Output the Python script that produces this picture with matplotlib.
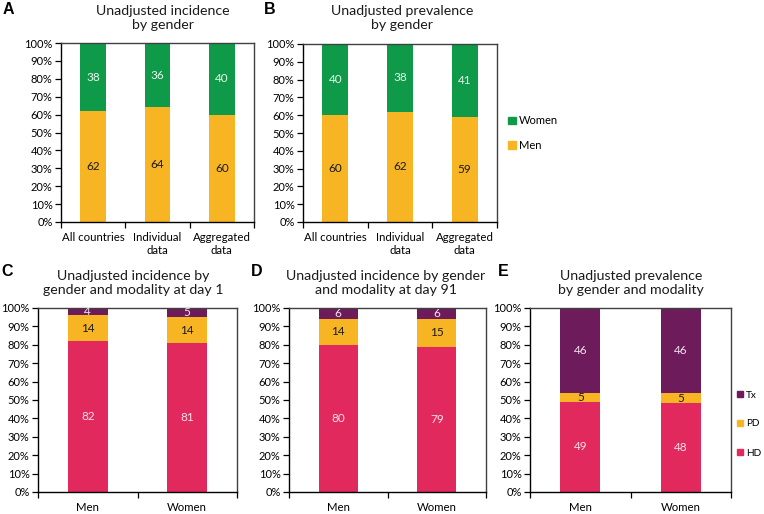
import matplotlib
matplotlib.use("Agg")
import matplotlib.pyplot as plt
import numpy as np
from matplotlib.ticker import FixedLocator, PercentFormatter
from matplotlib.patches import Patch

plt.rcParams['font.family'] = ['Lato', 'DejaVu Sans']

# ---- data ----
ab_categories = ["All countries", "Individual\ndata", "Aggregated\ndata"]
a_men = [62, 64, 60]
a_women = [38, 36, 40]
b_men = [60, 62, 59]
b_women = [40, 38, 41]

cde_categories = ["Men", "Women"]
c_hd = [82, 81]
c_pd = [14, 14]
c_tx = [4, 5]
d_hd = [80, 79]
d_pd = [14, 15]
d_tx = [6, 6]
e_hd = [49, 48]
e_pd = [5, 5]
e_tx = [46, 46]

titles = {
    "A": "Unadjusted incidence\nby gender",
    "B": "Unadjusted prevalence\nby gender",
    "C": "Unadjusted incidence by\ngender and modality at day 1",
    "D": "Unadjusted incidence by gender\nand modality at day 91",
    "E": "Unadjusted prevalence\nby gender and modality",
}

GREEN = "#0f9a4a"
YELLOW = "#f7b524"
PINK = "#e2295e"
PURPLE = "#6e1b5b"

W, H = 764, 514
fig = plt.figure(figsize=(W / 100, H / 100), dpi=100)


def ax_at(x0, x1, y0, y1):
    return fig.add_axes([x0 / W, 1 - y1 / H, (x1 - x0) / W, (y1 - y0) / H])


def style(ax, ncat, labels):
    ax.set_xlim(-0.5, ncat - 0.5)
    ax.set_ylim(0, 100)
    ax.yaxis.set_major_locator(FixedLocator(np.arange(0, 101, 10)))
    ax.yaxis.set_major_formatter(PercentFormatter(decimals=0))
    ax.set_xticks(range(ncat))
    ax.set_xticklabels(labels, fontsize=8.2, linespacing=1.2)
    ax.xaxis.set_minor_locator(FixedLocator(np.arange(-0.5, ncat, 1.0)))
    ax.tick_params(axis='x', which='major', length=0, pad=7)
    ax.tick_params(axis='x', which='minor', length=4, width=0.9, direction='out', color='black')
    ax.tick_params(axis='y', which='major', length=4, width=0.9, direction='out', labelsize=8, pad=2)
    for s in ['left', 'bottom']:
        ax.spines[s].set_color('black')
        ax.spines[s].set_linewidth(1.0)
    for s in ['top', 'right']:
        ax.spines[s].set_color('#404040')
        ax.spines[s].set_linewidth(1.0)


def stacked(ax, series, colors, txtcolors):
    tot = np.sum(np.array(series, dtype=float), axis=0)
    x = np.arange(len(tot))
    bottom = np.zeros(len(tot))
    for vals, c, tc in zip(series, colors, txtcolors):
        v = np.array(vals, dtype=float)
        h = v / tot * 100
        ax.bar(x, h, 0.4, bottom=bottom, color=c, edgecolor='none', zorder=2)
        for xi, hi, bi, lab in zip(x, h, bottom, vals):
            ax.text(xi, bi + hi / 2, f"{lab}", ha='center', va='center',
                    fontsize=8.5, color=tc, zorder=3)
        bottom = bottom + h


# A
axA = ax_at(61, 254, 43, 222)
stacked(axA, [a_men, a_women], [YELLOW, GREEN], ['#1a1a1a', '#e8f5ea'])
style(axA, 3, ab_categories)

# B
axB = ax_at(303, 497, 44, 222)
stacked(axB, [b_men, b_women], [YELLOW, GREEN], ['#1a1a1a', '#e8f5ea'])
style(axB, 3, ab_categories)
fig.legend(handles=[Patch(color=GREEN, label='Women'), Patch(color=YELLOW, label='Men')],
           loc='center left', bbox_to_anchor=(508 / W, 1 - 133 / H), frameon=False,
           fontsize=8, handlelength=0.7, handleheight=0.7, handletextpad=0.3,
           labelspacing=1.2, borderpad=0, borderaxespad=0)

# C
axC = ax_at(38, 237, 308, 492)
stacked(axC, [c_hd, c_pd, c_tx], [PINK, YELLOW, PURPLE], ['#fbe0e8', '#1a1a1a', '#f3e3ee'])
style(axC, 2, cde_categories)

# D
axD = ax_at(289, 486, 308, 492)
stacked(axD, [d_hd, d_pd, d_tx], [PINK, YELLOW, PURPLE], ['#fbe0e8', '#1a1a1a', '#f3e3ee'])
style(axD, 2, cde_categories)

# E
axE = ax_at(530, 731, 308, 492)
stacked(axE, [e_hd, e_pd, e_tx], [PINK, YELLOW, PURPLE], ['#fbe0e8', '#1a1a1a', '#f3e3ee'])
style(axE, 2, cde_categories)
fig.legend(handles=[Patch(color=PURPLE, label='Tx'), Patch(color=YELLOW, label='PD'),
                    Patch(color=PINK, label='HD')],
           loc='center left', bbox_to_anchor=(737 / W, 1 - 424 / H), frameon=False,
           fontsize=7.2, handlelength=0.6, handleheight=0.6, handletextpad=0.3,
           labelspacing=2.0, borderpad=0, borderaxespad=0)

# titles
title_pos = {"A": (163, 18), "B": (402, 18), "C": (133, 283), "D": (386, 283), "E": (631, 283)}
for k, (x, y) in title_pos.items():
    fig.text(x / W, 1 - y / H, titles[k], ha='center', va='center', fontsize=10.2,
             linespacing=1.25, color='#1a1a1a')

letters = {"A": (8, 10), "B": (270, 10), "C": (7, 272), "D": (257, 272), "E": (503, 272)}
for k, (x, y) in letters.items():
    fig.text(x / W, 1 - y / H, k, ha='center', va='center', fontsize=11.5,
             fontweight='bold', family=['Liberation Sans', 'DejaVu Sans'])

fig.savefig("out.png", dpi=100)
